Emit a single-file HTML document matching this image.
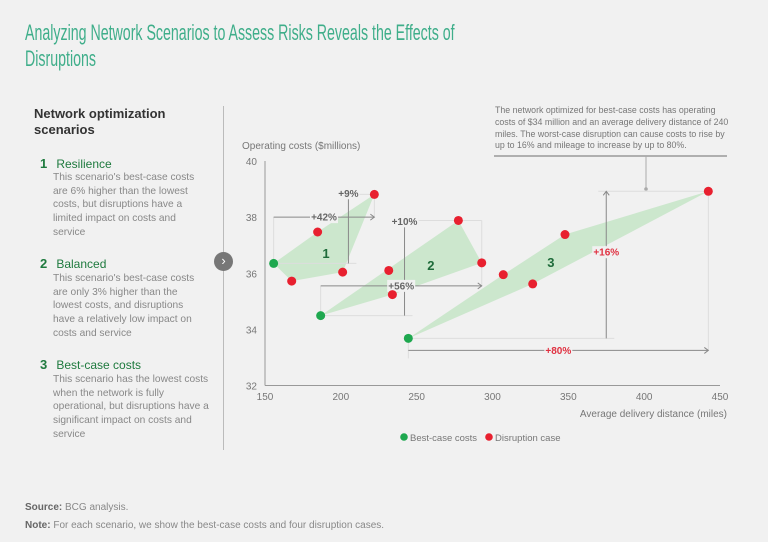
<!DOCTYPE html>
<html><head><meta charset="utf-8">
<style>
body{margin:0;width:768px;height:542px;background:#f1f1f1;font-family:"Liberation Sans",sans-serif;position:relative;overflow:hidden}
.abs{position:absolute}
#title{left:25px;top:20px;width:1000px;font-family:"Liberation Sans Narrow","Liberation Sans",sans-serif;font-size:22px;line-height:26px;color:#3fae8a;transform:scaleX(0.645);transform-origin:0 0;white-space:nowrap}
.hdr{font-weight:bold;color:#333;font-size:13px;line-height:16px}
.sh{color:#1e7a3e;font-size:12px}
.sh b{display:inline-block;width:13px;font-size:13px}
.desc{color:#888;font-size:10.2px;line-height:13.7px;width:148px}
</style></head><body>
<div id="title" class="abs">Analyzing Network Scenarios to Assess Risks Reveals the Effects of<br>Disruptions</div>
<div class="abs hdr" style="left:34px;top:106px">Network optimization<br>scenarios</div>
<div class="abs sh" style="left:40px;top:156px"><b>1</b> Resilience</div>
<div class="abs desc" style="left:53px;top:171px">This scenario's best-case costs are 6% higher than the lowest costs, but disruptions have a limited impact on costs and service</div>
<div class="abs sh" style="left:40px;top:256px"><b>2</b> Balanced</div>
<div class="abs desc" style="left:53px;top:272px">This scenario's best-case costs are only 3% higher than the lowest costs, and disruptions have a relatively low impact on costs and service</div>
<div class="abs sh" style="left:40px;top:357px"><b>3</b> Best-case costs</div>
<div class="abs desc" style="left:53px;top:373px;width:165px">This scenario has the lowest costs when the network is fully operational, but disruptions have a significant impact on costs and service</div>
<div class="abs" style="left:223px;top:106px;width:1px;height:344px;background:#bbb"></div>
<div class="abs" style="left:214px;top:252px;width:19px;height:19px;border-radius:50%;background:#777;color:#fff;font-size:13px;line-height:18px;text-align:center">›</div>
<div class="abs" style="left:495px;top:105px;width:236px;font-size:8.8px;line-height:11.8px;color:#777">The network optimized for best-case costs has operating costs of $34 million and an average delivery distance of 240 miles. The worst-case disruption can cause costs to rise by up to 16% and mileage to increase by up to 80%.</div>
<div class="abs" style="left:25px;top:502px;font-size:10px;color:#888"><b style="color:#666">Source:</b> BCG analysis.</div>
<div class="abs" style="left:25px;top:520px;font-size:10px;color:#888"><b style="color:#666">Note:</b> For each scenario, we show the best-case costs and four disruption cases.</div>
<svg id="chart" class="abs" style="left:0;top:0" width="768" height="542"></svg>
<script>
const xTicks=[150,200,250,300,350,400,450];
const yTicks=[32,34,36,38,40];
const scenarioLabels=["1","2","3"];
const bestX=[155.7,186.7,244.5];
const bestY=[36.35,34.49,33.68];
const dis1X=[167.6,184.7,201.2,222.1], dis1Y=[35.72,37.47,36.04,38.81];
const dis2X=[231.6,234.0,277.5,292.9], dis2Y=[36.10,35.24,37.88,36.37];
const dis3X=[307.1,326.5,347.8,442.3], dis3Y=[35.95,35.62,37.38,38.92];
const costPct=["+9%","+10%","+16%"];
const distPct=["+42%","+56%","+80%"];
const NS="http://www.w3.org/2000/svg";
const svg=document.getElementById('chart');
const X=v=>265+(v-150)*(720-265)/300;
const Y=v=>385.5-(v-32)*(385.5-161)/8;
function el(t,a,p){const e=document.createElementNS(NS,t);for(const k in a)e.setAttribute(k,a[k]);(p||svg).appendChild(e);return e;}
function txt(x,y,s,a){const e=el('text',Object.assign({x:x,y:y,'font-size':10,fill:'#777','font-family':'Liberation Sans, sans-serif'},a||{}));e.textContent=s;return e;}
let a=el('line',{x1:X(150),y1:Y(40),x2:X(150),y2:Y(32),stroke:'#999'});
a=el('line',{x1:X(150),y1:Y(32),x2:X(450),y2:Y(32),stroke:'#999'});
xTicks.forEach(t=>{const e=txt(X(t),400,t,{'text-anchor':'middle'});});
yTicks.forEach(t=>{const e=txt(257,Y(t)+4,t,{'text-anchor':'end'});});
let t=txt(242,149,'Operating costs ($millions)');
t=txt(727,417,'Average delivery distance (miles)',{'text-anchor':'end'});
el('line',{x1:494,y1:156,x2:727,y2:156,stroke:'#999','stroke-width':1.5});
el('line',{x1:646,y1:156,x2:646,y2:188,stroke:'#aaa'});
el('circle',{cx:646,cy:189,r:1.8,fill:'#aaa'});
function hull(px){px=px.slice().sort((a,b)=>a[0]-b[0]||a[1]-b[1]);const cr=(o,a,b)=>(a[0]-o[0])*(b[1]-o[1])-(a[1]-o[1])*(b[0]-o[0]);const lo=[],up=[];for(const p of px){while(lo.length>=2&&cr(lo[lo.length-2],lo[lo.length-1],p)<=0)lo.pop();lo.push(p);}for(const p of px.reverse()){while(up.length>=2&&cr(up[up.length-2],up[up.length-1],p)<=0)up.pop();up.push(p);}up.pop();lo.pop();return lo.concat(up);}
const dis=[[dis1X,dis1Y],[dis2X,dis2Y],[dis3X,dis3Y]];
dis.forEach((d,i)=>{const pts=[[X(bestX[i]),Y(bestY[i])]];d[0].forEach((x,j)=>pts.push([X(x),Y(d[1][j])]));
 const h=hull(pts);const p=el('polygon',{points:h.map(q=>q.join(',')).join(' '),fill:'#c8e6c9',opacity:0.9});
 
});
const gray='#888';
function arrowH(x1,x2,y,label,col){el('line',{x1:x1,y1:y,x2:x2,y2:y,stroke:gray});el('path',{d:`M${x2-4},${y-3}L${x2},${y}L${x2-4},${y+3}`,stroke:gray,fill:'none'});
 const w=label.length*6+4,mx=(x1+x2)/2;el('rect',{x:mx-w/2,y:y-6,width:w,height:12,fill:'#f1f1f1'});const e=txt(mx,y+3.5,label,{'text-anchor':'middle','font-weight':'bold',fill:col||'#666'});}
function arrowV(x,y1,y2,label,ly,col){el('line',{x1:x,y1:y1,x2:x,y2:y2,stroke:gray});el('path',{d:`M${x-3},${y2+4}L${x},${y2}L${x+3},${y2+4}`,stroke:gray,fill:'none'});
 const w=label.length*6+4;el('rect',{x:x-w/2,y:ly-6,width:w,height:12,fill:'#f1f1f1'});const e=txt(x,ly+3.5,label,{'text-anchor':'middle','font-weight':'bold',fill:col||'#666'});}
function guide(x1,y1,x2,y2){el('line',{x1:x1,y1:y1,x2:x2,y2:y2,stroke:'#ddd'});}
const maxX=dis.map(d=>Math.max(...d[0])), maxY=dis.map(d=>Math.max(...d[1]));
const vx=[X(205),X(242),X(375)];
const hy=[Y(38),Y(35.55),Y(33.25)];
const vly=[Y(38.85),Y(37.85),Y(36.75)];
[0,1,2].forEach(i=>{
 const bx=X(bestX[i]),by=Y(bestY[i]);
 guide(bx,by,vx[i]+8,by);guide(vx[i]-8,Y(maxY[i]),X(maxX[i]),Y(maxY[i]));
 guide(bx,by,bx,hy[i]+(i==2?8:0));guide(X(maxX[i]),Y(maxY[i]),X(maxX[i]),hy[i]);
 arrowV(vx[i],by,Y(maxY[i]),costPct[i],vly[i],i==2?'#e03040':null);
 arrowH(bx,X(maxX[i]),hy[i],distPct[i],i==2?'#e03040':null);
});
const lblX=[X(190.2),X(259.4),X(338.5)],lblY=[Y(36.73),Y(36.3),Y(36.4)];
scenarioLabels.forEach((s,i)=>{const e=txt(lblX[i],lblY[i]+5,s,{'font-size':13,'font-weight':'bold',fill:'#1e6b3a','text-anchor':'middle'});});
dis.forEach((d,i)=>d[0].forEach((x,j)=>{const c=el('circle',{cx:X(x),cy:Y(d[1][j]),r:4.5,fill:'#e8202f'});}));
bestX.forEach((x,i)=>{const c=el('circle',{cx:X(x),cy:Y(bestY[i]),r:4.5,fill:'#1ea84f'});});
let c=el('circle',{cx:404,cy:437,r:3.8,fill:'#1ea84f'});
t=txt(410,441,'Best-case costs',{'font-size':9.5});
c=el('circle',{cx:489,cy:437,r:3.8,fill:'#e8202f'});
t=txt(495,441,'Disruption case',{'font-size':9.5});
</script>
</body></html>
